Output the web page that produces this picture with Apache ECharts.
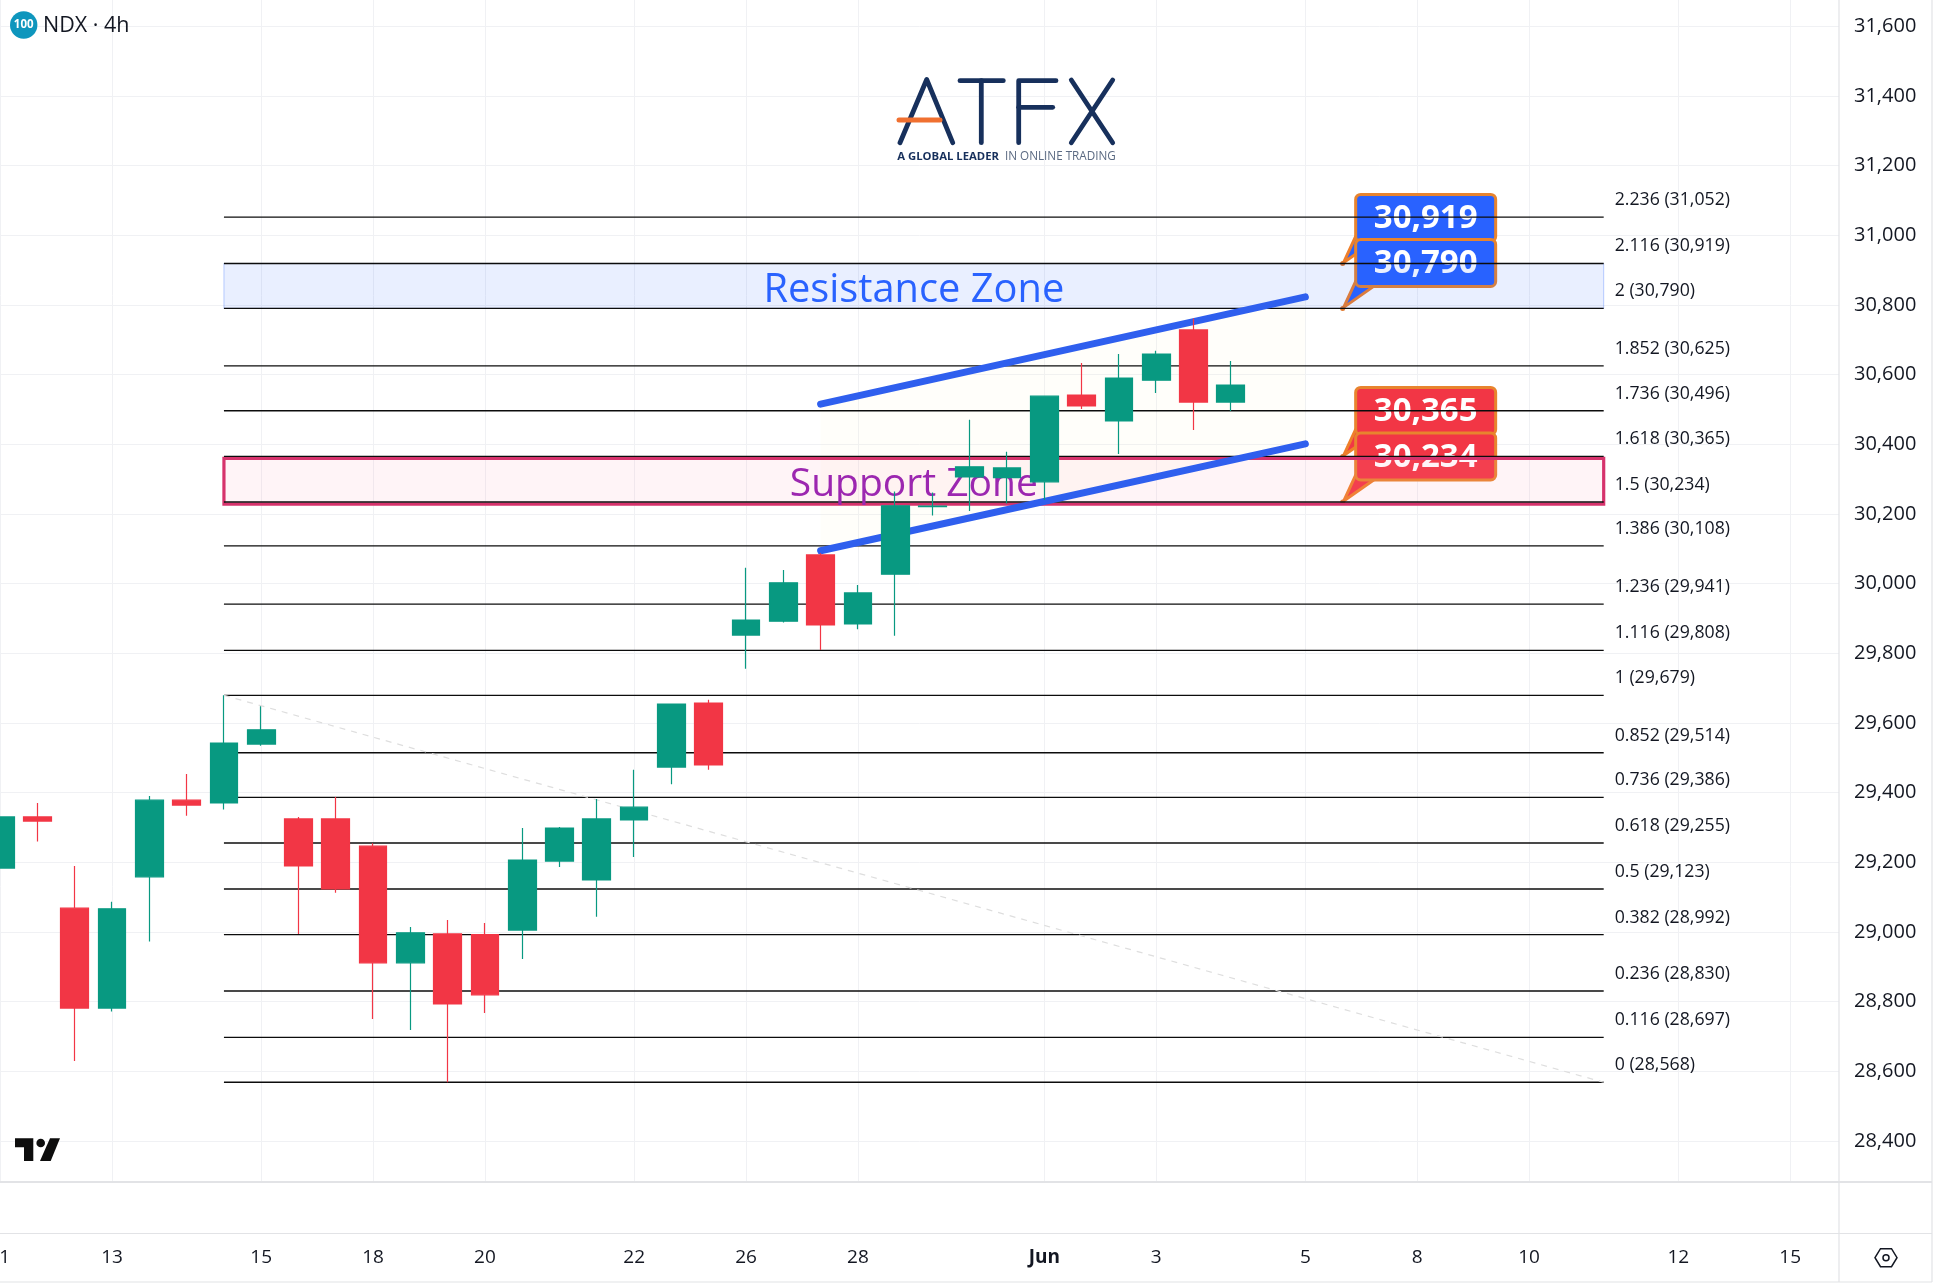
<!DOCTYPE html>
<html>
<head>
<meta charset="utf-8">
<title>NDX 4h</title>
<style>
  html, body { margin: 0; padding: 0; background: #ffffff; }
  #chart { width: 1934px; height: 1284px; }
</style>
<script src="https://cdn.jsdelivr.net/npm/echarts@6/dist/echarts.min.js"></script>
</head>
<body>
<div id="chart"></div>
<script>
// 4h bars, x is the bar number: [bar, open, close, low, high]
const candles = [
  [0, 29183, 29330, 29183, 29330],
  [1, 29330, 29318, 29259, 29370],
  [2, 29068, 28781, 28629, 29189],
  [3, 28781, 29066, 28771, 29086],
  [4, 29158, 29378, 28972, 29390],
  [5, 29378, 29364, 29333, 29453],
  [6, 29370, 29542, 29351, 29679],
  [7, 29539, 29580, 29534, 29648],
  [8, 29324, 29189, 28994, 29330],
  [9, 29324, 29123, 29112, 29387],
  [10, 29246, 28911, 28750, 29254],
  [11, 28911, 28997, 28718, 29014],
  [12, 28994, 28793, 28568, 29034],
  [13, 28992, 28819, 28767, 29025],
  [14, 29005, 29206, 28922, 29298],
  [15, 29203, 29298, 29186, 29301],
  [16, 29149, 29324, 29043, 29381],
  [17, 29321, 29358, 29215, 29465],
  [18, 29473, 29654, 29424, 29654],
  [19, 29657, 29479, 29465, 29666],
  [20, 29852, 29895, 29755, 30045],
  [21, 29892, 30002, 29888, 30039],
  [22, 30082, 29881, 29809, 30087],
  [23, 29884, 29973, 29869, 29996],
  [24, 30027, 30223, 29850, 30264],
  [25, 30221, 30222, 30195, 30261],
  [26, 30306, 30335, 30208, 30470],
  [27, 30304, 30332, 30230, 30378],
  [28, 30292, 30538, 30240, 30538],
  [29, 30541, 30510, 30501, 30633],
  [30, 30467, 30590, 30372, 30659],
  [31, 30584, 30659, 30547, 30668],
  [32, 30728, 30521, 30441, 30761],
  [33, 30521, 30570, 30495, 30639]
];

// Price scale and date scale
const priceTicks = [28400, 28600, 28800, 29000, 29200, 29400, 29600, 29800, 30000, 30200, 30400, 30600, 30800, 31000, 31200, 31400, 31600];
const dateTickBars = [0, 3, 7, 10, 13, 17, 20, 23, 28, 31, 35, 38, 41, 45, 48];
const dateTickLabels = ['1', '13', '15', '18', '20', '22', '26', '28', 'Jun', '3', '5', '8', '10', '12', '15'];

// Fibonacci extension drawn from the swing low to the swing high
const fibRatios = ['0', '0.116', '0.236', '0.382', '0.5', '0.618', '0.736', '0.852', '1', '1.116', '1.236', '1.386', '1.5', '1.618', '1.736', '1.852', '2', '2.116', '2.236'];
const fibPrices = [28568, 28697, 28830, 28992, 29123, 29255, 29386, 29514, 29679, 29808, 29941, 30108, 30234, 30365, 30496, 30625, 30790, 30919, 31052];
const fibStartBar = 6;
const fibEndBar = 43;

// Rising channel: [bar, price] at each end
const channelUpper = [[22, 30515], [35, 30823]];
const channelLower = [[22, 30094], [35, 30401]];

// Shaded zones: [first bar, last bar, upper price, lower price]
const resistanceZone = [6, 43, 30919, 30790];
const supportZone = [6, 43, 30365, 30234];

// Price callouts anchored on their level
const calloutBar = 36;
const blueCallouts = [30919, 30790];
const redCallouts = [30365, 30234];

const INK = '#131722';
const GRID = '#f0f1f4';
const PANEL = '#e2e3e6';
const UP = '#089981';
const DOWN = '#f23645';
const AXIS_FONT = '"Open Sans"';
const fmt = v => v.toLocaleString('en-US');

// Shade a price band; the fill stays translucent so what lies under it shows through
function bandItem(fill, stroke, lineWidth, nudge) {
  return function (params, api) {
    const a = api.coord([api.value(0), api.value(2)]);
    const b = api.coord([api.value(1), api.value(3)]);
    return {
      type: 'rect',
      shape: { x: a[0], y: a[1] + nudge, width: b[0] - a[0], height: b[1] - a[1] },
      style: { fill: fill, stroke: stroke, lineWidth: lineWidth }
    };
  };
}

// One callout box with its tail pointing at the level
function calloutItem(fill) {
  return function (params, api) {
    const p = api.coord([api.value(0), api.value(1)]);
    const left = p[0] + 13, right = p[0] + 153;
    const top = p[1] - 69, bottom = p[1] - 22;
    return {
      type: 'group',
      children: [
        {
          type: 'polygon',
          shape: { points: [[p[0] + 1, p[1] - 1], [left, bottom - 5], [left + 18, bottom]] },
          style: { fill: fill, stroke: '#ef7f2a', lineWidth: 3, lineJoin: 'round' }
        },
        { type: 'circle', shape: { cx: p[0], cy: p[1], r: 2.5 }, style: { fill: '#e07a30' } },
        {
          type: 'rect',
          shape: { x: left, y: top, width: right - left, height: bottom - top, r: 5 },
          style: { fill: fill, stroke: '#e8842e', lineWidth: 3 }
        },
        {
          type: 'text',
          style: {
            x: (left + right) / 2, y: (top + bottom) / 2 + 1,
            text: fmt(api.value(1)),
            fill: '#ffffff', font: 'bold 33px "Noto Sans"', align: 'center', verticalAlign: 'middle'
          }
        }
      ]
    };
  };
}

// A level line with its ratio and price above its right end
function fibItem(params, api) {
  const i = api.value(0);
  const a = api.coord([fibStartBar, fibPrices[i]]);
  const b = api.coord([fibEndBar, fibPrices[i]]);
  return {
    type: 'group',
    children: [
      {
        type: 'line',
        shape: { x1: a[0], y1: a[1], x2: b[0], y2: b[1] },
        style: { stroke: '#0c0c0c', lineWidth: 1.4 }
      },
      {
        type: 'text',
        style: {
          x: b[0] + 11, y: b[1] - 17,
          text: fibRatios[i] + ' (' + fmt(fibPrices[i]) + ')',
          fill: INK, font: '17.7px "Open Sans"', align: 'left', verticalAlign: 'middle'
        }
      }
    ]
  };
}

function zoneLabelItem(text, color, size) {
  return function (params, api) {
    const p = api.coord([api.value(0), api.value(1)]);
    return {
      type: 'text',
      style: { x: p[0], y: p[1], text: text, fill: color, font: size + 'px "Open Sans"', align: 'center', verticalAlign: 'middle' }
    };
  };
}

const logoNavy = '#17305c';
const logoStroke = { stroke: logoNavy, lineWidth: 4.8, lineCap: 'round', lineJoin: 'round', fill: null };
const logoLine = pts => ({ type: 'polyline', shape: { points: pts }, style: logoStroke });

const chrome = [
  // Panel separators
  { type: 'line', shape: { x1: 0, y1: 1182, x2: 1932, y2: 1182 }, style: { stroke: PANEL, lineWidth: 2 } },
  { type: 'line', shape: { x1: 0, y1: 1233.5, x2: 1932, y2: 1233.5 }, style: { stroke: PANEL, lineWidth: 1.2 } },
  { type: 'line', shape: { x1: 0, y1: 1282, x2: 1932, y2: 1282 }, style: { stroke: PANEL, lineWidth: 1.2 } },
  { type: 'line', shape: { x1: 1839, y1: 0, x2: 1839, y2: 1282 }, style: { stroke: PANEL, lineWidth: 1.2 } },
  { type: 'line', shape: { x1: 1932, y1: 0, x2: 1932, y2: 1282 }, style: { stroke: PANEL, lineWidth: 1.2 } },
  // Symbol legend
  { type: 'circle', shape: { cx: 23.7, cy: 25, r: 13.7 }, style: { fill: '#0e96bd' } },
  { type: 'text', style: { x: 23.7, y: 25, text: '100', fill: '#ffffff', font: 'bold 11.5px "Open Sans"', align: 'center', verticalAlign: 'middle' } },
  { type: 'text', style: { x: 43, y: 26, text: 'NDX · 4h', fill: INK, font: '21.5px "Open Sans"', align: 'left', verticalAlign: 'middle' } },
  // ATFX wordmark
  logoLine([[900, 142.7], [926.7, 79.5], [952.7, 142.7]]),
  logoLine([[960, 80.7], [1003.3, 80.7]]),
  logoLine([[981.3, 80.7], [981.3, 142.7]]),
  logoLine([[1056, 80.7], [1018.7, 80.7], [1018.7, 142.7]]),
  logoLine([[1018.7, 107.3], [1052.7, 107.3]]),
  logoLine([[1071.3, 80], [1112.7, 142.7]]),
  logoLine([[1112.7, 80], [1071.3, 142.7]]),
  { type: 'line', shape: { x1: 899, y1: 120, x2: 940, y2: 120 }, style: { stroke: '#f07030', lineWidth: 5, lineCap: 'round' } },
  { type: 'text', style: { x: 897.3, y: 157, text: 'A GLOBAL LEADER', fill: logoNavy, font: 'bold 11.3px "Open Sans"', align: 'left', verticalAlign: 'middle' } },
  { type: 'text', style: { x: 1005, y: 157, text: 'IN ONLINE TRADING', fill: '#5b6a82', font: '11.7px "Open Sans"', align: 'left', verticalAlign: 'middle' } },
  // TradingView mark
  { type: 'polygon', shape: { points: [[15, 1138.3], [33.3, 1138.3], [33.3, 1161], [24, 1161], [24, 1147.3], [15, 1147.3]] }, style: { fill: '#0d0d0d' } },
  { type: 'circle', shape: { cx: 40.7, cy: 1143, r: 4.3 }, style: { fill: '#0d0d0d' } },
  { type: 'polygon', shape: { points: [[50, 1138.3], [60, 1138.3], [50.7, 1161], [40, 1161]] }, style: { fill: '#0d0d0d' } },
  // Settings icon
  { type: 'polygon', shape: { points: [[1875, 1257.7], [1880.5, 1248.7], [1891.5, 1248.7], [1897, 1257.7], [1891.5, 1266.7], [1880.5, 1266.7]] }, style: { fill: null, stroke: INK, lineWidth: 1.5 } },
  { type: 'circle', shape: { cx: 1886, cy: 1257.7, r: 3 }, style: { fill: null, stroke: INK, lineWidth: 1.5 } }
].map(el => Object.assign({ silent: true, z: 20 }, el));

const overlay = (name, z, data, renderItem) => ({
  type: 'custom', name: name, z: z, silent: true, clip: false, animation: false,
  data: data, renderItem: renderItem
});

const chart = echarts.init(document.getElementById('chart'), null, { renderer: 'canvas' });
chart.setOption({
  animation: false,
  backgroundColor: '#ffffff',
  graphic: { elements: chrome },
  // Labels may run past the canvas edge; the plot area keeps its fixed size
  grid: { left: 0.2, right: 95, top: 0, bottom: 102, containLabel: false, outerBoundsMode: 'none' },
  xAxis: {
    type: 'value',
    min: 0,
    max: 49.31,
    position: 'bottom',
    offset: 51,
    axisLine: { show: false },
    axisTick: { show: false, customValues: dateTickBars },
    splitLine: { show: true, lineStyle: { color: GRID, width: 1 } },
    axisLabel: {
      customValues: dateTickBars,
      showMinLabel: true,
      showMaxLabel: true,
      margin: 15,
      color: INK,
      fontFamily: AXIS_FONT,
      fontSize: 19,
      formatter: v => {
        const t = dateTickLabels[dateTickBars.indexOf(v)];
        if (v === 0) return '{edge|' + t + '}';
        return t === 'Jun' ? '{b|Jun}' : t;
      },
      rich: {
        b: { fontWeight: 'bold', color: INK, fontFamily: AXIS_FONT, fontSize: 19 },
        edge: { color: INK, fontFamily: AXIS_FONT, fontSize: 19, padding: [0, 0, 0, 9] }
      }
    }
  },
  yAxis: {
    type: 'value',
    min: 28281.7,
    max: 31675.4,
    position: 'right',
    axisLine: { show: false },
    axisTick: { show: false, customValues: priceTicks },
    splitLine: { show: true, lineStyle: { color: GRID, width: 1 } },
    axisLabel: {
      customValues: priceTicks,
      margin: 15,
      color: INK,
      fontFamily: AXIS_FONT,
      fontSize: 20,
      formatter: v => fmt(v)
    }
  },
  series: [
    overlay('Channel fill', 1, [0], (p, api) => ({
      type: 'polygon',
      shape: { points: [channelUpper[0], channelUpper[1], channelLower[1], channelLower[0]].map(d => api.coord(d)) },
      style: { fill: 'rgba(255,244,205,0.1)' }
    })),
    overlay('Blue callouts', 3, blueCallouts.map(v => [calloutBar, v]), calloutItem('#2962ff')),
    overlay('Red callouts', 3, redCallouts.map(v => [calloutBar, v]), calloutItem('#f23645')),
    overlay('Resistance zone', 4, [resistanceZone], bandItem('rgba(41,98,255,0.1)', 'rgba(41,98,255,0.3)', 1, 0)),
    overlay('Support zone', 4, [supportZone], bandItem('rgba(253,150,180,0.1)', '#d6336c', 3.2, 2)),
    overlay('Fibonacci levels', 5, fibRatios.map((r, i) => [i]), fibItem),
    {
      type: 'line', name: 'Fibonacci trend', z: 6, silent: true, showSymbol: false,
      data: [[fibStartBar, fibPrices[8]], [fibEndBar, fibPrices[0]]],
      lineStyle: { color: '#dedede', width: 1.2, type: [6, 6] }
    },
    {
      type: 'line', name: 'Channel upper', z: 7, silent: true, showSymbol: false, data: channelUpper,
      lineStyle: { color: '#2f5fee', width: 7, cap: 'round' }
    },
    {
      type: 'line', name: 'Channel lower', z: 7, silent: true, showSymbol: false, data: channelLower,
      lineStyle: { color: '#2f5fee', width: 7, cap: 'round' }
    },
    overlay('Resistance label', 7, [[24.5, 30842]], zoneLabelItem('Resistance Zone', '#2962ff', 39.8)),
    overlay('Support label', 7, [[24.5, 30282]], zoneLabelItem('Support Zone', '#9c27b0', 39)),
    {
      type: 'candlestick', name: 'NDX', z: 8, silent: true,
      barWidth: 28.2,
      encode: { x: 0, y: [1, 2, 3, 4] },
      data: candles,
      itemStyle: { color: UP, color0: DOWN, borderColor: UP, borderColor0: DOWN, borderWidth: 1.2 }
    }
  ]
});
</script>
</body>
</html>
